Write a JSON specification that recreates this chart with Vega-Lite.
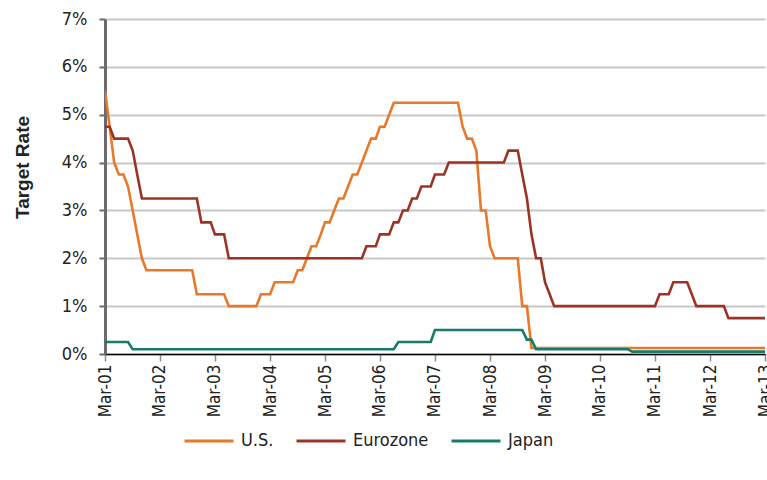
{
  "$schema": "https://vega.github.io/schema/vega-lite/v6.json",
  "width": 660,
  "height": 335,
  "autosize": {"type": "none"},
  "padding": {"left": 105, "top": 19, "right": 2, "bottom": 126},
  "background": "white",
  "config": {
    "view": {"stroke": null},
    "font": "'Liberation Sans Narrow', 'DejaVu Sans Condensed', 'Roboto Condensed', Roboto, sans-serif"
  },
  "data": {
    "values": [
      {"date": "2001-03-01", "US": 5.5, "Eurozone": 4.75, "Japan": 0.25},
      {"date": "2001-04-01", "US": 4.75, "Eurozone": 4.75, "Japan": 0.25},
      {"date": "2001-05-01", "US": 4.0, "Eurozone": 4.5, "Japan": 0.25},
      {"date": "2001-06-01", "US": 3.75, "Eurozone": 4.5, "Japan": 0.25},
      {"date": "2001-07-01", "US": 3.75, "Eurozone": 4.5, "Japan": 0.25},
      {"date": "2001-08-01", "US": 3.5, "Eurozone": 4.5, "Japan": 0.25},
      {"date": "2001-09-01", "US": 3.0, "Eurozone": 4.25, "Japan": 0.1},
      {"date": "2001-10-01", "US": 2.5, "Eurozone": 3.75, "Japan": 0.1},
      {"date": "2001-11-01", "US": 2.0, "Eurozone": 3.25, "Japan": 0.1},
      {"date": "2001-12-01", "US": 1.75, "Eurozone": 3.25, "Japan": 0.1},
      {"date": "2002-01-01", "US": 1.75, "Eurozone": 3.25, "Japan": 0.1},
      {"date": "2002-02-01", "US": 1.75, "Eurozone": 3.25, "Japan": 0.1},
      {"date": "2002-03-01", "US": 1.75, "Eurozone": 3.25, "Japan": 0.1},
      {"date": "2002-04-01", "US": 1.75, "Eurozone": 3.25, "Japan": 0.1},
      {"date": "2002-05-01", "US": 1.75, "Eurozone": 3.25, "Japan": 0.1},
      {"date": "2002-06-01", "US": 1.75, "Eurozone": 3.25, "Japan": 0.1},
      {"date": "2002-07-01", "US": 1.75, "Eurozone": 3.25, "Japan": 0.1},
      {"date": "2002-08-01", "US": 1.75, "Eurozone": 3.25, "Japan": 0.1},
      {"date": "2002-09-01", "US": 1.75, "Eurozone": 3.25, "Japan": 0.1},
      {"date": "2002-10-01", "US": 1.75, "Eurozone": 3.25, "Japan": 0.1},
      {"date": "2002-11-01", "US": 1.25, "Eurozone": 3.25, "Japan": 0.1},
      {"date": "2002-12-01", "US": 1.25, "Eurozone": 2.75, "Japan": 0.1},
      {"date": "2003-01-01", "US": 1.25, "Eurozone": 2.75, "Japan": 0.1},
      {"date": "2003-02-01", "US": 1.25, "Eurozone": 2.75, "Japan": 0.1},
      {"date": "2003-03-01", "US": 1.25, "Eurozone": 2.5, "Japan": 0.1},
      {"date": "2003-04-01", "US": 1.25, "Eurozone": 2.5, "Japan": 0.1},
      {"date": "2003-05-01", "US": 1.25, "Eurozone": 2.5, "Japan": 0.1},
      {"date": "2003-06-01", "US": 1.0, "Eurozone": 2.0, "Japan": 0.1},
      {"date": "2003-07-01", "US": 1.0, "Eurozone": 2.0, "Japan": 0.1},
      {"date": "2003-08-01", "US": 1.0, "Eurozone": 2.0, "Japan": 0.1},
      {"date": "2003-09-01", "US": 1.0, "Eurozone": 2.0, "Japan": 0.1},
      {"date": "2003-10-01", "US": 1.0, "Eurozone": 2.0, "Japan": 0.1},
      {"date": "2003-11-01", "US": 1.0, "Eurozone": 2.0, "Japan": 0.1},
      {"date": "2003-12-01", "US": 1.0, "Eurozone": 2.0, "Japan": 0.1},
      {"date": "2004-01-01", "US": 1.25, "Eurozone": 2.0, "Japan": 0.1},
      {"date": "2004-02-01", "US": 1.25, "Eurozone": 2.0, "Japan": 0.1},
      {"date": "2004-03-01", "US": 1.25, "Eurozone": 2.0, "Japan": 0.1},
      {"date": "2004-04-01", "US": 1.5, "Eurozone": 2.0, "Japan": 0.1},
      {"date": "2004-05-01", "US": 1.5, "Eurozone": 2.0, "Japan": 0.1},
      {"date": "2004-06-01", "US": 1.5, "Eurozone": 2.0, "Japan": 0.1},
      {"date": "2004-07-01", "US": 1.5, "Eurozone": 2.0, "Japan": 0.1},
      {"date": "2004-08-01", "US": 1.5, "Eurozone": 2.0, "Japan": 0.1},
      {"date": "2004-09-01", "US": 1.75, "Eurozone": 2.0, "Japan": 0.1},
      {"date": "2004-10-01", "US": 1.75, "Eurozone": 2.0, "Japan": 0.1},
      {"date": "2004-11-01", "US": 2.0, "Eurozone": 2.0, "Japan": 0.1},
      {"date": "2004-12-01", "US": 2.25, "Eurozone": 2.0, "Japan": 0.1},
      {"date": "2005-01-01", "US": 2.25, "Eurozone": 2.0, "Japan": 0.1},
      {"date": "2005-02-01", "US": 2.5, "Eurozone": 2.0, "Japan": 0.1},
      {"date": "2005-03-01", "US": 2.75, "Eurozone": 2.0, "Japan": 0.1},
      {"date": "2005-04-01", "US": 2.75, "Eurozone": 2.0, "Japan": 0.1},
      {"date": "2005-05-01", "US": 3.0, "Eurozone": 2.0, "Japan": 0.1},
      {"date": "2005-06-01", "US": 3.25, "Eurozone": 2.0, "Japan": 0.1},
      {"date": "2005-07-01", "US": 3.25, "Eurozone": 2.0, "Japan": 0.1},
      {"date": "2005-08-01", "US": 3.5, "Eurozone": 2.0, "Japan": 0.1},
      {"date": "2005-09-01", "US": 3.75, "Eurozone": 2.0, "Japan": 0.1},
      {"date": "2005-10-01", "US": 3.75, "Eurozone": 2.0, "Japan": 0.1},
      {"date": "2005-11-01", "US": 4.0, "Eurozone": 2.0, "Japan": 0.1},
      {"date": "2005-12-01", "US": 4.25, "Eurozone": 2.25, "Japan": 0.1},
      {"date": "2006-01-01", "US": 4.5, "Eurozone": 2.25, "Japan": 0.1},
      {"date": "2006-02-01", "US": 4.5, "Eurozone": 2.25, "Japan": 0.1},
      {"date": "2006-03-01", "US": 4.75, "Eurozone": 2.5, "Japan": 0.1},
      {"date": "2006-04-01", "US": 4.75, "Eurozone": 2.5, "Japan": 0.1},
      {"date": "2006-05-01", "US": 5.0, "Eurozone": 2.5, "Japan": 0.1},
      {"date": "2006-06-01", "US": 5.25, "Eurozone": 2.75, "Japan": 0.1},
      {"date": "2006-07-01", "US": 5.25, "Eurozone": 2.75, "Japan": 0.25},
      {"date": "2006-08-01", "US": 5.25, "Eurozone": 3.0, "Japan": 0.25},
      {"date": "2006-09-01", "US": 5.25, "Eurozone": 3.0, "Japan": 0.25},
      {"date": "2006-10-01", "US": 5.25, "Eurozone": 3.25, "Japan": 0.25},
      {"date": "2006-11-01", "US": 5.25, "Eurozone": 3.25, "Japan": 0.25},
      {"date": "2006-12-01", "US": 5.25, "Eurozone": 3.5, "Japan": 0.25},
      {"date": "2007-01-01", "US": 5.25, "Eurozone": 3.5, "Japan": 0.25},
      {"date": "2007-02-01", "US": 5.25, "Eurozone": 3.5, "Japan": 0.25},
      {"date": "2007-03-01", "US": 5.25, "Eurozone": 3.75, "Japan": 0.5},
      {"date": "2007-04-01", "US": 5.25, "Eurozone": 3.75, "Japan": 0.5},
      {"date": "2007-05-01", "US": 5.25, "Eurozone": 3.75, "Japan": 0.5},
      {"date": "2007-06-01", "US": 5.25, "Eurozone": 4.0, "Japan": 0.5},
      {"date": "2007-07-01", "US": 5.25, "Eurozone": 4.0, "Japan": 0.5},
      {"date": "2007-08-01", "US": 5.25, "Eurozone": 4.0, "Japan": 0.5},
      {"date": "2007-09-01", "US": 4.75, "Eurozone": 4.0, "Japan": 0.5},
      {"date": "2007-10-01", "US": 4.5, "Eurozone": 4.0, "Japan": 0.5},
      {"date": "2007-11-01", "US": 4.5, "Eurozone": 4.0, "Japan": 0.5},
      {"date": "2007-12-01", "US": 4.25, "Eurozone": 4.0, "Japan": 0.5},
      {"date": "2008-01-01", "US": 3.0, "Eurozone": 4.0, "Japan": 0.5},
      {"date": "2008-02-01", "US": 3.0, "Eurozone": 4.0, "Japan": 0.5},
      {"date": "2008-03-01", "US": 2.25, "Eurozone": 4.0, "Japan": 0.5},
      {"date": "2008-04-01", "US": 2.0, "Eurozone": 4.0, "Japan": 0.5},
      {"date": "2008-05-01", "US": 2.0, "Eurozone": 4.0, "Japan": 0.5},
      {"date": "2008-06-01", "US": 2.0, "Eurozone": 4.0, "Japan": 0.5},
      {"date": "2008-07-01", "US": 2.0, "Eurozone": 4.25, "Japan": 0.5},
      {"date": "2008-08-01", "US": 2.0, "Eurozone": 4.25, "Japan": 0.5},
      {"date": "2008-09-01", "US": 2.0, "Eurozone": 4.25, "Japan": 0.5},
      {"date": "2008-10-01", "US": 1.0, "Eurozone": 3.75, "Japan": 0.5},
      {"date": "2008-11-01", "US": 1.0, "Eurozone": 3.25, "Japan": 0.3},
      {"date": "2008-12-01", "US": 0.125, "Eurozone": 2.5, "Japan": 0.3},
      {"date": "2009-01-01", "US": 0.125, "Eurozone": 2.0, "Japan": 0.1},
      {"date": "2009-02-01", "US": 0.125, "Eurozone": 2.0, "Japan": 0.1},
      {"date": "2009-03-01", "US": 0.125, "Eurozone": 1.5, "Japan": 0.1},
      {"date": "2009-04-01", "US": 0.125, "Eurozone": 1.25, "Japan": 0.1},
      {"date": "2009-05-01", "US": 0.125, "Eurozone": 1.0, "Japan": 0.1},
      {"date": "2009-06-01", "US": 0.125, "Eurozone": 1.0, "Japan": 0.1},
      {"date": "2009-07-01", "US": 0.125, "Eurozone": 1.0, "Japan": 0.1},
      {"date": "2009-08-01", "US": 0.125, "Eurozone": 1.0, "Japan": 0.1},
      {"date": "2009-09-01", "US": 0.125, "Eurozone": 1.0, "Japan": 0.1},
      {"date": "2009-10-01", "US": 0.125, "Eurozone": 1.0, "Japan": 0.1},
      {"date": "2009-11-01", "US": 0.125, "Eurozone": 1.0, "Japan": 0.1},
      {"date": "2009-12-01", "US": 0.125, "Eurozone": 1.0, "Japan": 0.1},
      {"date": "2010-01-01", "US": 0.125, "Eurozone": 1.0, "Japan": 0.1},
      {"date": "2010-02-01", "US": 0.125, "Eurozone": 1.0, "Japan": 0.1},
      {"date": "2010-03-01", "US": 0.125, "Eurozone": 1.0, "Japan": 0.1},
      {"date": "2010-04-01", "US": 0.125, "Eurozone": 1.0, "Japan": 0.1},
      {"date": "2010-05-01", "US": 0.125, "Eurozone": 1.0, "Japan": 0.1},
      {"date": "2010-06-01", "US": 0.125, "Eurozone": 1.0, "Japan": 0.1},
      {"date": "2010-07-01", "US": 0.125, "Eurozone": 1.0, "Japan": 0.1},
      {"date": "2010-08-01", "US": 0.125, "Eurozone": 1.0, "Japan": 0.1},
      {"date": "2010-09-01", "US": 0.125, "Eurozone": 1.0, "Japan": 0.1},
      {"date": "2010-10-01", "US": 0.125, "Eurozone": 1.0, "Japan": 0.05},
      {"date": "2010-11-01", "US": 0.125, "Eurozone": 1.0, "Japan": 0.05},
      {"date": "2010-12-01", "US": 0.125, "Eurozone": 1.0, "Japan": 0.05},
      {"date": "2011-01-01", "US": 0.125, "Eurozone": 1.0, "Japan": 0.05},
      {"date": "2011-02-01", "US": 0.125, "Eurozone": 1.0, "Japan": 0.05},
      {"date": "2011-03-01", "US": 0.125, "Eurozone": 1.0, "Japan": 0.05},
      {"date": "2011-04-01", "US": 0.125, "Eurozone": 1.25, "Japan": 0.05},
      {"date": "2011-05-01", "US": 0.125, "Eurozone": 1.25, "Japan": 0.05},
      {"date": "2011-06-01", "US": 0.125, "Eurozone": 1.25, "Japan": 0.05},
      {"date": "2011-07-01", "US": 0.125, "Eurozone": 1.5, "Japan": 0.05},
      {"date": "2011-08-01", "US": 0.125, "Eurozone": 1.5, "Japan": 0.05},
      {"date": "2011-09-01", "US": 0.125, "Eurozone": 1.5, "Japan": 0.05},
      {"date": "2011-10-01", "US": 0.125, "Eurozone": 1.5, "Japan": 0.05},
      {"date": "2011-11-01", "US": 0.125, "Eurozone": 1.25, "Japan": 0.05},
      {"date": "2011-12-01", "US": 0.125, "Eurozone": 1.0, "Japan": 0.05},
      {"date": "2012-01-01", "US": 0.125, "Eurozone": 1.0, "Japan": 0.05},
      {"date": "2012-02-01", "US": 0.125, "Eurozone": 1.0, "Japan": 0.05},
      {"date": "2012-03-01", "US": 0.125, "Eurozone": 1.0, "Japan": 0.05},
      {"date": "2012-04-01", "US": 0.125, "Eurozone": 1.0, "Japan": 0.05},
      {"date": "2012-05-01", "US": 0.125, "Eurozone": 1.0, "Japan": 0.05},
      {"date": "2012-06-01", "US": 0.125, "Eurozone": 1.0, "Japan": 0.05},
      {"date": "2012-07-01", "US": 0.125, "Eurozone": 0.75, "Japan": 0.05},
      {"date": "2012-08-01", "US": 0.125, "Eurozone": 0.75, "Japan": 0.05},
      {"date": "2012-09-01", "US": 0.125, "Eurozone": 0.75, "Japan": 0.05},
      {"date": "2012-10-01", "US": 0.125, "Eurozone": 0.75, "Japan": 0.05},
      {"date": "2012-11-01", "US": 0.125, "Eurozone": 0.75, "Japan": 0.05},
      {"date": "2012-12-01", "US": 0.125, "Eurozone": 0.75, "Japan": 0.05},
      {"date": "2013-01-01", "US": 0.125, "Eurozone": 0.75, "Japan": 0.05},
      {"date": "2013-02-01", "US": 0.125, "Eurozone": 0.75, "Japan": 0.05},
      {"date": "2013-03-01", "US": 0.125, "Eurozone": 0.75, "Japan": 0.05}
    ]
  },
  "transform": [
    {"fold": ["US", "Eurozone", "Japan"], "as": ["series", "rate"]}
  ],
  "mark": {"type": "line", "strokeWidth": 2.6, "clip": true},
  "encoding": {
    "x": {
      "field": "date",
      "type": "temporal",
      "scale": {
        "type": "utc",
        "domain": [
          {"year": 2001, "month": 3, "date": 1, "utc": true},
          {"year": 2013, "month": 3, "date": 1, "utc": true}
        ]
      },
      "axis": {
        "title": null,
        "values": [
          {"year": 2001, "month": 3, "date": 1, "utc": true},
          {"year": 2002, "month": 3, "date": 1, "utc": true},
          {"year": 2003, "month": 3, "date": 1, "utc": true},
          {"year": 2004, "month": 3, "date": 1, "utc": true},
          {"year": 2005, "month": 3, "date": 1, "utc": true},
          {"year": 2006, "month": 3, "date": 1, "utc": true},
          {"year": 2007, "month": 3, "date": 1, "utc": true},
          {"year": 2008, "month": 3, "date": 1, "utc": true},
          {"year": 2009, "month": 3, "date": 1, "utc": true},
          {"year": 2010, "month": 3, "date": 1, "utc": true},
          {"year": 2011, "month": 3, "date": 1, "utc": true},
          {"year": 2012, "month": 3, "date": 1, "utc": true},
          {"year": 2013, "month": 3, "date": 1, "utc": true}
        ],
        "labelExpr": "utcFormat(datum.value, '%b-%y')",
        "labelAngle": -90,
        "labelFontSize": 17,
        "labelColor": "#222222",
        "labelPadding": 3,
        "labelFlush": false,
        "labelOverlap": false,
        "grid": false,
        "domainColor": "#000000",
        "domainWidth": 1.5,
        "tickColor": "#8c8c8c",
        "tickWidth": 1.5,
        "tickSize": 7
      }
    },
    "y": {
      "field": "rate",
      "type": "quantitative",
      "scale": {"domain": [0, 7], "nice": false, "zero": true},
      "axis": {
        "title": "Target Rate",
        "titleFont": "Liberation Sans",
        "titleFontSize": 19,
        "titleFontWeight": "bold",
        "titleColor": "#222222",
        "titleX": -73,
        "titleY": 148,
        "titleBaseline": "bottom",
        "values": [0, 1, 2, 3, 4, 5, 6, 7],
        "labelExpr": "datum.value + '%'",
        "labelFontSize": 18,
        "labelColor": "#222222",
        "labelPadding": 12,
        "grid": true,
        "gridColor": "#c8c8c8",
        "gridWidth": 2,
        "domainColor": "#6b6b6b",
        "domainWidth": 3,
        "tickColor": "#6b6b6b",
        "tickWidth": 2,
        "tickSize": 6
      }
    },
    "color": {
      "field": "series",
      "type": "nominal",
      "scale": {
        "domain": ["US", "Eurozone", "Japan"],
        "range": ["#e8782a", "#9c3425", "#177a6c"]
      },
      "legend": {
        "title": null,
        "orient": "none",
        "legendX": 78,
        "legendY": 396,
        "direction": "horizontal",
        "symbolType": "stroke",
        "symbolSize": 2400,
        "symbolStrokeWidth": 3,
        "labelFontSize": 18,
        "labelColor": "#222222",
        "labelOffset": 6,
        "columnPadding": 16,
        "labelExpr": "datum.label == 'US' ? 'U.S.' : datum.label"
      }
    }
  }
}
